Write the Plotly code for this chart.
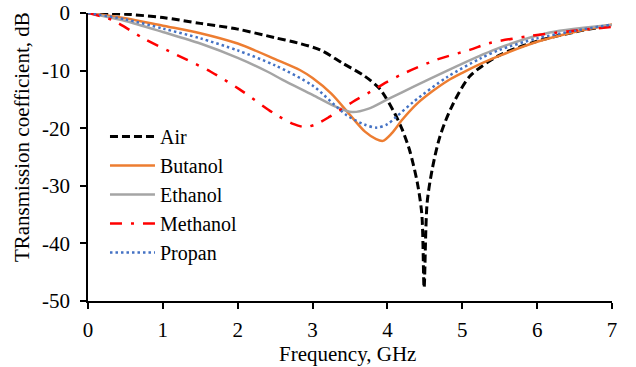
import plotly.graph_objects as go

# ---- data ----
freq_air = [0, 0.5, 1.0, 1.5, 2.0, 2.5, 2.8, 3.1, 3.4, 3.7, 3.9, 4.1, 4.2, 4.3, 4.4, 4.46, 4.49, 4.53, 4.6, 4.7, 4.85, 5.1, 5.5, 6.0, 6.5, 7.0]
air = [0, -0.2, -0.8, -1.8, -2.8, -4.3, -5.2, -6.4, -8.7, -11.0, -13.2, -17.5, -20.3, -24.0, -29.5, -35.0, -47.7, -33.0, -27.0, -21.5, -16.5, -11.0, -7.3, -4.9, -3.3, -2.1]

freq_but = [0, 0.5, 1.0, 1.5, 2.0, 2.5, 2.83, 3.0, 3.25, 3.5, 3.7, 3.85, 3.94, 4.05, 4.2, 4.4, 4.6, 4.8, 5.0, 5.25, 5.5, 6.0, 6.5, 7.0]
butanol = [0, -0.9, -2.2, -3.5, -5.3, -8.0, -9.9, -11.3, -14.0, -17.7, -20.6, -21.9, -22.2, -21.0, -18.5, -15.7, -13.6, -11.8, -10.4, -8.8, -7.4, -5.0, -3.3, -2.0]

freq_eth = [0, 0.5, 1.0, 1.5, 2.0, 2.4, 2.6, 3.0, 3.3, 3.53, 3.75, 4.0, 4.35, 4.8, 5.24, 5.5, 6.17, 7.0]
ethanol = [0, -1.4, -3.3, -5.3, -7.8, -10.2, -11.6, -14.2, -16.2, -17.2, -16.6, -15.0, -12.8, -10.0, -7.4, -6.0, -3.4, -2.1]

freq_met = [0, 0.32, 0.74, 1.19, 1.64, 2.03, 2.48, 2.75, 2.9, 3.05, 3.23, 3.54, 3.77, 3.99, 4.2, 4.66, 5.1, 5.37, 5.9, 6.4, 7.0]
methanol = [0, -1.2, -4.4, -7.3, -10.2, -13.3, -17.4, -19.3, -19.8, -19.3, -18.0, -15.4, -13.7, -12.0, -10.6, -8.1, -6.4, -5.2, -4.0, -3.2, -2.4]

freq_pro = [0, 0.5, 1.0, 1.5, 2.0, 2.5, 3.0, 3.45, 3.7, 3.86, 4.0, 4.12, 4.35, 4.8, 5.24, 5.5, 6.0, 6.5, 7.0]
propan = [0, -1.1, -2.7, -4.4, -6.5, -9.1, -12.6, -17.7, -19.4, -19.9, -19.3, -18.0, -15.4, -11.1, -7.9, -6.4, -4.4, -3.1, -2.0]

x_ticks = [0, 1, 2, 3, 4, 5, 6, 7]
y_ticks = [0, -10, -20, -30, -40, -50]

FONT = "Liberation Serif"

fig = go.Figure()
series = [
    ("Air", freq_air, air, dict(color="#000000", width=3, dash="8px,4px")),
    ("Butanol", freq_but, butanol, dict(color="#ED7D31", width=2.5)),
    ("Ethanol", freq_eth, ethanol, dict(color="#A5A5A5", width=2.5)),
    ("Methanol", freq_met, methanol, dict(color="#FF0000", width=2.5, dash="12px,9px,3px,9px")),
    ("Propan", freq_pro, propan, dict(color="#4472C4", width=2.5, dash="2.5px,3px")),
]
for name, fx, fy, ln in series:
    fig.add_trace(go.Scatter(
        x=fx, y=fy, name=name, mode="lines",
        line=dict(shape="spline", smoothing=0.8, **ln),
        legendgroup=name,
    ))

fig.update_layout(
    width=636, height=367,
    margin=dict(l=88, r=24, t=13, b=66),
    paper_bgcolor="white", plot_bgcolor="white",
    font=dict(family=FONT, size=21, color="black"),
    showlegend=True,
    legend=dict(
        x=0.0324, y=0.639, xanchor="left", yanchor="top",
        bgcolor="rgba(0,0,0,0)", font=dict(size=20, family=FONT),
        itemwidth=45, tracegroupgap=0,
    ),
    xaxis=dict(
        range=[0, 7], tickvals=x_ticks, ticktext=[str(v) for v in x_ticks],
        showgrid=False, zeroline=False, showline=True, linecolor="black", linewidth=1.5,
        ticks="outside", ticklen=6, tickwidth=1.5, tickcolor="black",
        tickfont=dict(size=21, family=FONT), automargin=False, ticklabelstandoff=3,
    ),
    yaxis=dict(
        range=[-50, 0], tickvals=y_ticks, ticktext=[str(v) for v in y_ticks],
        showgrid=False, zeroline=False, showline=True, linecolor="black", linewidth=1.5,
        ticks="outside", ticklen=6, tickwidth=1.5, tickcolor="black",
        tickfont=dict(size=21, family=FONT), automargin=False, ticklabelstandoff=6,
    ),
    annotations=[
        dict(
            text="TRansmission coefficient, dB", textangle=-90,
            xref="paper", yref="paper", x=-0.126, y=0.569,
            xanchor="center", yanchor="middle", showarrow=False,
            font=dict(size=21, family=FONT),
        ),
        dict(
            text="Frequency, GHz",
            xref="paper", yref="paper", x=0.495, y=-0.184,
            xanchor="center", yanchor="middle", showarrow=False,
            font=dict(size=21, family=FONT),
        ),
    ],
)

fig.write_html("out.html", config={"displayModeBar": False},
               post_script="document.body.style.margin='0';")
